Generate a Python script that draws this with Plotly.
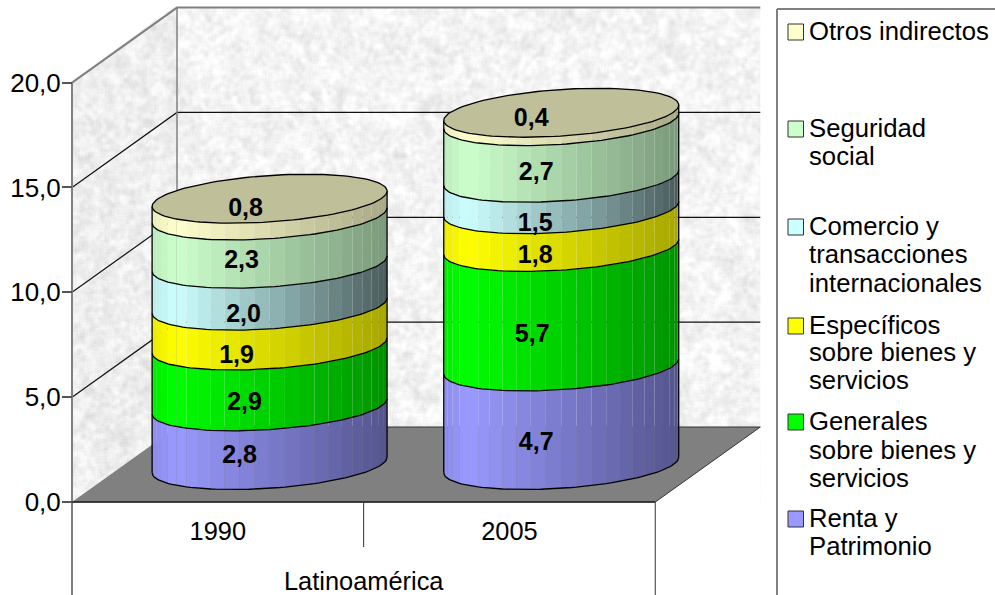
import base64
import math
import struct
import zlib

import numpy as np
import plotly.graph_objects as go

# Chart data: tax burden by type, percentage points of GDP
categories = ["1990", "2005"]
region = "Latinoamérica"
renta = [2.8, 4.7]
generales = [2.9, 5.7]
especificos = [1.9, 1.8]
comercio = [2.0, 1.5]
seguridad = [2.3, 2.7]
otros = [0.8, 0.4]
value_ticks = [0, 5, 10, 15, 20]

series_stack = [renta, generales, especificos, comercio, seguridad, otros]
series_names = ["Renta y Patrimonio", "Generales sobre bienes y servicios",
                "Específicos sobre bienes y servicios",
                "Comercio y transacciones internacionales",
                "Seguridad social", "Otros indirectos"]
series_rgb = [(153, 153, 255), (0, 255, 0), (255, 255, 0),
              (204, 255, 255), (204, 255, 204), (255, 255, 204)]
# Brightness reached at the unlit right edge of each segment
series_dark = [0.55, 0.57, 0.65, 0.36, 0.60, 0.66]

# Legend rows, top to bottom: wrapped text lines, and pixel rows for them
legend_lines = [["Otros indirectos"], ["Seguridad", "social"],
                ["Comercio y", "transacciones", "internacionales"],
                ["Específicos", "sobre bienes y", "servicios"],
                ["Generales", "sobre bienes y", "servicios"],
                ["Renta y", "Patrimonio"]]
legend_rows = [[31], [128, 156], [226, 254, 283],
               [325, 352, 380], [421, 450, 478], [518, 546]]
legend_rgb = series_rgb[::-1]

# Page geometry in pixels
W, H = 995, 595
ORIGIN_PX = (72.0, 502.0)
PX_PER_CAT = 291.65
PX_PER_VAL = 20.97
DEPTH_PX = (105.0, 75.0)

# Oblique projection expressed in axis units
DEPTH_X = DEPTH_PX[0] / PX_PER_CAT
DEPTH_Y = DEPTH_PX[1] / PX_PER_VAL
x_range = [-ORIGIN_PX[0] / PX_PER_CAT, (W - ORIGIN_PX[0]) / PX_PER_CAT]
y_range = [-(H - ORIGIN_PX[1]) / PX_PER_VAL, ORIGIN_PX[1] / PX_PER_VAL]

# Cylinder footprint: a circle on the floor, centred half way into the depth
CENTER_DEPTH = 0.493
U_X = 111.5 / PX_PER_CAT
V_X = 37.0 / PX_PER_CAT
V_Y = 24.5 / PX_PER_VAL
THETA0 = math.atan2(V_X, U_X)
N_STRIPS = 24

# Hand-placed label offsets from each segment's centre, in pixels (dx, dy down)
label_nudge = [
    [(-30, 21), (-25, 28), (-33, 31), (-26, 31), (-28, 22), (-24, 3)],
    [(-25, 28), (-29, 29), (-26, 29), (-26, 31), (-25, 24), (-30, 3)],
]

FONT = "Liberation Sans, Arial, sans-serif"
LABEL_SIZE = 25
LEGEND_SIZE = 25.7
VALUE_TICK_SIZE = 26
CATEGORY_SIZE = 25.4


def wall_grain(width, height):
    """Light stone grain for the chart walls, as an encoded grey PNG."""
    yy, xx = np.mgrid[0:height, 0:width]
    hashed = np.sin(xx * 12.9898 + yy * 78.233) * 43758.5453
    cells = hashed - np.floor(hashed)

    def soften(a, r):
        for axis in (0, 1):
            a = sum(np.roll(a, s, axis=axis) for s in range(-r, r + 1)) / (2 * r + 1)
        return a

    fine = soften(cells, 2)
    coarse = soften(soften(cells, 5), 4)
    img = 244 + (fine - fine.mean()) / fine.std() * 4.5 + (coarse - coarse.mean()) / coarse.std() * 2.0
    img = np.clip(img, 210, 255).astype(np.uint8)
    raw = b"".join(b"\x00" + row.tobytes() for row in img)

    def chunk(tag, data):
        return struct.pack(">I", len(data)) + tag + data + struct.pack(">I", zlib.crc32(tag + data))

    png = b"\x89PNG\r\n\x1a\n"
    png += chunk(b"IHDR", struct.pack(">IIBBBBB", width, height, 8, 0, 0, 0, 0))
    png += chunk(b"IDAT", zlib.compress(raw, 9)) + chunk(b"IEND", b"")
    return "data:image/png;base64," + base64.b64encode(png).decode()


def shade(t, dark):
    """Brightness across the cylinder, t running from left edge to right edge."""
    if t < 0.1:
        return 0.92 + 0.08 * t / 0.1
    return 1.0 - (1.0 - dark) * (t - 0.1) / 0.9


def mix(rgb, k):
    return "rgb(%d,%d,%d)" % tuple(round(c * k) for c in rgb)


def rim(cx, base, angles):
    """Points on a cylinder's circular section lying at value height `base`."""
    xs = [cx + U_X * math.cos(a) + V_X * math.sin(a) for a in angles]
    ys = [base + V_Y * math.sin(a) for a in angles]
    return xs, ys


fig = go.Figure()


def polygon(xs, ys, fill, line=None, width=0, name=""):
    fig.add_trace(go.Scatter(
        x=list(xs), y=list(ys), mode="lines", fill="toself", fillcolor=fill,
        line=dict(color=line or fill, width=width), hoverinfo="skip",
        showlegend=False, name=name))


def stroke(xs, ys, color="#000000", width=1.0):
    fig.add_trace(go.Scatter(
        x=list(xs), y=list(ys), mode="lines", line=dict(color=color, width=width),
        hoverinfo="skip", showlegend=False))


# Areas of the wall image's bounding box that lie outside the walls
x_end = len(categories)
top = value_ticks[-1]
polygon([0, DEPTH_X, 0], [top + DEPTH_Y + 0.2, top + DEPTH_Y + 0.2, top], "#ffffff")
polygon([x_end, x_end + DEPTH_X, x_end + DEPTH_X], [0, DEPTH_Y, -0.1], "#ffffff")

# Side wall is a touch darker than the back wall
polygon([0, DEPTH_X, DEPTH_X, 0], [0, DEPTH_Y, top + DEPTH_Y, top], "rgba(0,0,0,0.02)")

# Gridlines on the back and side walls
for v in value_ticks[1:-1]:
    stroke([0, DEPTH_X, x_end + DEPTH_X], [v, v + DEPTH_Y, v + DEPTH_Y], "#111111", 1.2)

# Floor
polygon([0, x_end, x_end + DEPTH_X, DEPTH_X], [0, 0, DEPTH_Y, DEPTH_Y], "#808080", "#333333", 1.0)

# Frame edges at the top of the walls and the corner between them
stroke([0, DEPTH_X, x_end + DEPTH_X], [top, top + DEPTH_Y, top + DEPTH_Y], "#808080", 2.0)
stroke([DEPTH_X, DEPTH_X], [DEPTH_Y, top + DEPTH_Y], "#808080", 1.5)

# Value axis line and category table rules beneath the floor
stroke([0, 0], [y_range[0], top], "#808080", 2.0)
stroke([-10 / PX_PER_CAT, x_end], [0, 0], "#262626", 1.5)
stroke([x_end, x_end], [y_range[0], 0], "#555555", 1.2)
stroke([1, 1], [-45 / PX_PER_VAL, 0], "#333333", 1.0)

# Stacked cylinders, one strip of shading at a time, bottom segment first
label_x, label_y, label_text = [], [], []
half_width = math.hypot(U_X, V_X)
for c, cat in enumerate(categories):
    cx = c + 0.5 + CENTER_DEPTH * DEPTH_X
    floor_level = CENTER_DEPTH * DEPTH_Y
    base = floor_level
    strip_edges = [THETA0 + math.pi * (1 + i / N_STRIPS) for i in range(N_STRIPS + 1)]
    for s, values in enumerate(series_stack):
        height = values[c]
        rgb = series_rgb[s]
        for i in range(N_STRIPS):
            arc = [strip_edges[i], strip_edges[i + 1]]
            x0, y0 = rim(cx, base, arc)
            x1, y1 = rim(cx, base + height, arc)
            t = (0.5 * (x0[0] + x0[1]) - (cx - half_width)) / (2 * half_width)
            polygon(x0 + x1[::-1], y0 + y1[::-1], mix(rgb, shade(t, series_dark[s])),
                    name=series_names[s])
        # Edge between this segment and the one below it
        fine_arc = [strip_edges[0] + math.pi * j / 72 for j in range(73)]
        xs, ys = rim(cx, base, fine_arc)
        stroke(xs, ys, "#000000", 1.3)
        dx, dy = label_nudge[c][s]
        label_x.append(cx + dx / PX_PER_CAT)
        label_y.append(base + height / 2 - dy / PX_PER_VAL)
        label_text.append(f"{height:.1f}".replace(".", ","))
        base += height

    # Side edges and lid of the cylinder
    lx, ly = rim(cx, floor_level, [strip_edges[0], strip_edges[-1]])
    stroke([lx[0], lx[0]], [ly[0], ly[0] + base - floor_level], "#000000", 1.3)
    stroke([lx[1], lx[1]], [ly[1], ly[1] + base - floor_level], "#000000", 1.3)
    lid = [2 * math.pi * j / 120 for j in range(121)]
    xs, ys = rim(cx, base, lid)
    polygon(xs, ys, mix(series_rgb[-1], 0.75), "#000000", 1.3)

# Value labels on the segments
fig.add_trace(go.Scatter(
    x=label_x, y=label_y, text=label_text, mode="text", textposition="middle center",
    textfont=dict(family=FONT, size=LABEL_SIZE, color="#000000", weight="bold"),
    hoverinfo="skip", showlegend=False, cliponaxis=False))

annotations = [dict(
    x=x_end / 2, y=y_range[0], xref="x", yref="y", text=region, showarrow=False,
    font=dict(family=FONT, size=CATEGORY_SIZE, color="#000000"), xanchor="center", yanchor="bottom",
    borderpad=0, yshift=-1)]
shapes = [
    dict(type="line", xref="paper", yref="paper", x0=777 / W, x1=1,
         y0=1 - 9 / H, y1=1 - 9 / H, line=dict(color="#808080", width=2)),
    dict(type="line", xref="paper", yref="paper", x0=777 / W, x1=777 / W,
         y0=0, y1=1 - 9 / H, line=dict(color="#808080", width=2)),
]

# Legend: colour box beside the first text line of each entry
for lines, rows, rgb in zip(legend_lines, legend_rows, legend_rgb):
    mid = rows[0] + 1
    shapes.append(dict(
        type="rect", xref="paper", yref="paper", x0=788 / W, x1=803.5 / W,
        y0=1 - (mid + 8) / H, y1=1 - (mid - 8) / H,
        fillcolor=mix(rgb, 1), line=dict(color="#333333", width=1)))
    for text, row in zip(lines, rows):
        annotations.append(dict(
            x=810 / W, y=1 - row / H, xref="paper", yref="paper", text=text, showarrow=False,
            font=dict(family=FONT, size=LEGEND_SIZE, color="#000000"),
            xanchor="left", yanchor="middle", xshift=-1, borderpad=0, borderwidth=0))

fig.update_layout(
    width=W, height=H, margin=dict(l=0, r=0, t=0, b=0),
    paper_bgcolor="#ffffff", plot_bgcolor="#ffffff", separators=",.",
    showlegend=False, annotations=annotations, shapes=shapes,
    images=[dict(
        source=wall_grain(688, 494), xref="x", yref="y", layer="below",
        x=0, y=top + DEPTH_Y, sizex=x_end + DEPTH_X, sizey=top + DEPTH_Y,
        xanchor="left", yanchor="top", sizing="stretch")],
    xaxis=dict(
        range=x_range, domain=[0, 1], anchor="free", position=(H - ORIGIN_PX[1]) / H,
        tickmode="array", tickvals=[i + 0.5 for i in range(len(categories))], ticktext=categories,
        ticks="", ticklabelstandoff=12, showgrid=False, zeroline=False, showline=False,
        tickfont=dict(family=FONT, size=CATEGORY_SIZE, color="#000000"), fixedrange=True),
    yaxis=dict(
        range=y_range, domain=[0, 1], anchor="free", position=ORIGIN_PX[0] / W,
        tickmode="array", tickvals=value_ticks, tickformat=".1f",
        ticks="outside", ticklen=10, tickwidth=1.5, tickcolor="#555555",
        showgrid=False, zeroline=False, showline=False, ticklabelstandoff=-4,
        tickfont=dict(family=FONT, size=VALUE_TICK_SIZE, color="#000000"), fixedrange=True),
)

fig.write_html("out.html", config={"displayModeBar": False})
